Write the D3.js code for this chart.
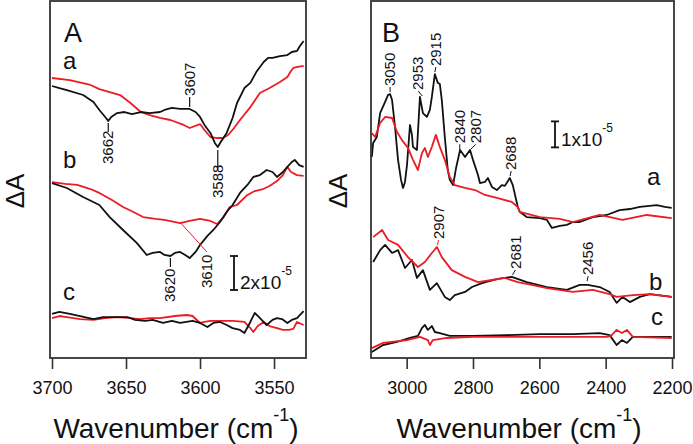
<!DOCTYPE html>
<html><head><meta charset="utf-8">
<script src="https://cdn.jsdelivr.net/npm/d3@7"></script>
<style>
body{margin:0;background:#fff}
svg{display:block}
text{font-family:"Liberation Sans",Arial,Helvetica,sans-serif;fill:#111}
</style>
</head><body>
<svg id="c" width="693" height="444"></svg>
<script>
// ---- DATA (ΔA values in units of 1e-5, traces stacked with their offsets) ----
const ticksA = [3700, 3650, 3600, 3550];
const ticksB = [3000, 2800, 2600, 2400, 2200];

// Panel A, trace a
const A_a_black = [[3700,16.0],[3695,15.88],[3690,15.76],[3679,15.47],[3672,15.06],[3668,14.59],[3663.5,14.12],[3662,13.94],[3660,14.18],[3656,14.41],[3651,14.47],[3646,14.35],[3640,14.47],[3634,14.41],[3627,14.47],[3624,14.59],[3619,14.71],[3613.5,14.65],[3607,14.65],[3603,14.47],[3600,14.18],[3597,13.71],[3593,13.24],[3590,12.65],[3588,12.41],[3586,12.71],[3582,13.24],[3578,14.12],[3575,15.0],[3570,15.88],[3566,16.18],[3562,16.82],[3557,17.41],[3554,17.65],[3551,17.65],[3546,17.76],[3541,17.82],[3538,18.0],[3534.5,18.06],[3532.5,18.35],[3530,18.65]];
const A_a_red = [[3700,16.47],[3688,16.35],[3674,16.06],[3668,15.82],[3654,15.47],[3647,15.0],[3640,14.47],[3634,14.29],[3627,14.12],[3620,14.0],[3611,13.71],[3607,13.53],[3600,13.76],[3597,13.41],[3593,13.0],[3588.5,12.94],[3584.5,12.94],[3581,13.12],[3577,13.53],[3573,14.0],[3566,14.76],[3559.5,15.59],[3553,15.88],[3546,16.24],[3541,16.53],[3539,16.82],[3537,17.06],[3534,17.12],[3530,17.18]];
// Panel A, trace b
const A_b_black = [[3700,10.29],[3690,10.0],[3679,9.47],[3668,9.0],[3661,8.29],[3652,7.53],[3642.6,6.76],[3636,6.06],[3632,6.18],[3627,6.24],[3624,6.06],[3620,6.0],[3617,6.18],[3613.5,6.24],[3610,6.06],[3607,5.88],[3603,6.24],[3600,6.65],[3595,7.18],[3591,7.53],[3586.5,8.0],[3582,8.59],[3578,9.0],[3573,9.71],[3568,10.18],[3564,10.65],[3559.5,10.76],[3555,11.06],[3551,10.94],[3548,10.65],[3544,10.94],[3541,11.24],[3538,11.53],[3536,11.65],[3533,11.35],[3530,11.24]];
const A_b_red = [[3700,10.35],[3691,10.24],[3683,10.18],[3674,9.94],[3668,9.71],[3659.5,9.29],[3652,8.88],[3645,8.59],[3638.5,8.29],[3630,8.18],[3624,8.12],[3613.5,7.94],[3607,8.06],[3600,8.18],[3593,8.06],[3588.5,7.88],[3584,8.29],[3580,8.88],[3575,9.0],[3568,9.59],[3563,9.82],[3557.4,9.94],[3553,10.12],[3548,10.41],[3544,10.76],[3541,11.24],[3538.5,10.94],[3534.5,10.76],[3530,10.71]];
// Panel A, trace c
const A_c_black = [[3700,2.59],[3695,2.71],[3688,2.59],[3681,2.47],[3672,2.29],[3665.5,2.41],[3657,2.41],[3649,2.41],[3644,2.24],[3637,2.18],[3632,2.24],[3625,2.06],[3619,2.18],[3613.5,2.06],[3605,2.18],[3600,2.06],[3595,1.82],[3591,2.06],[3586.5,2.12],[3582,1.94],[3578,1.76],[3573,1.65],[3570,1.47],[3566,2.12],[3563,2.65],[3559.5,2.35],[3555,1.94],[3551,2.24],[3548,2.35],[3544.6,2.29],[3541,2.06],[3538,2.24],[3534.5,2.35],[3530,2.76]];
const A_c_red = [[3700,2.35],[3695,2.47],[3690,2.41],[3681,2.29],[3672,2.24],[3664,2.35],[3656,2.41],[3647,2.35],[3640.5,2.29],[3634,2.35],[3627,2.35],[3617,2.47],[3609,2.53],[3605,2.47],[3600,2.06],[3597,2.12],[3593,2.18],[3586.5,2.18],[3578,2.18],[3570,2.12],[3566,1.76],[3564,1.53],[3561,1.88],[3557,2.12],[3553,1.88],[3548,1.76],[3544,1.65],[3540,1.65],[3537,1.71],[3534.5,2.12],[3530,1.94]];

// Panel B, trace a
const B_a_black = [[3105,7.73],[3101,8.27],[3090,8.5],[3080,9.42],[3065,9.85],[3056,10.12],[3050,10.15],[3044,9.92],[3035,8.88],[3026,7.62],[3017,6.85],[3011,6.54],[3005,6.77],[2999,7.42],[2990,8.96],[2984,8.58],[2981,8.12],[2969,8.0],[2960,10.04],[2951,9.42],[2939,9.27],[2930,9.54],[2924,10.04],[2915,10.92],[2906,10.58],[2900,10.54],[2894,9.92],[2885,8.5],[2876,7.23],[2870,6.85],[2860,6.65],[2851,7.31],[2839,8.0],[2824,7.73],[2809,8.0],[2800,7.62],[2785,7.04],[2779,6.73],[2764,6.77],[2755,6.92],[2743,6.58],[2728,6.46],[2713,6.65],[2704,6.62],[2689,6.92],[2680,6.65],[2665,5.81],[2659,5.62],[2638,5.42],[2598,5.38],[2577,5.31],[2562,5.0],[2538,5.08],[2517,5.12],[2499,5.23],[2478,5.23],[2439,5.42],[2397,5.5],[2358,5.69],[2327,5.73],[2297,5.81],[2246,5.88],[2222,5.81],[2201,5.77]];
const B_a_red = [[3105,8.65],[3095,8.5],[3080,9.04],[3065,9.27],[3044,9.23],[3029,8.69],[3014,8.38],[2996,8.08],[2981,7.62],[2966,7.23],[2954,7.88],[2945,8.08],[2936,7.73],[2924,8.12],[2912,8.58],[2900,8.12],[2885,7.62],[2870,6.96],[2855,6.65],[2824,6.54],[2794,6.46],[2764,6.27],[2725,6.15],[2683,6.0],[2665,5.81],[2659,5.62],[2598,5.42],[2538,5.35],[2499,5.23],[2418,5.5],[2349,5.31],[2276,5.5],[2201,5.38]];
// Panel B, trace b
const B_b_black = [[3101,3.69],[3080,4.15],[3065,4.35],[3044,4.04],[3026,4.15],[3005,3.46],[2984,3.77],[2969,3.08],[2951,3.38],[2930,2.62],[2909,2.88],[2885,2.35],[2870,2.23],[2855,2.42],[2824,2.54],[2803,2.73],[2773,2.88],[2725,3.04],[2683,3.12],[2638,2.92],[2577,2.73],[2517,2.62],[2478,2.81],[2454,2.81],[2418,2.73],[2388,2.54],[2367,2.12],[2349,2.35],[2327,2.15],[2297,2.35],[2267,2.46],[2201,2.35]];
const B_b_red = [[3101,4.65],[3074,4.92],[3056,4.54],[3026,4.35],[2996,3.88],[2966,3.5],[2945,3.69],[2924,4.04],[2909,4.27],[2894,3.88],[2864,3.38],[2824,3.12],[2785,2.92],[2743,3.0],[2704,3.08],[2665,2.92],[2623,2.81],[2577,2.69],[2499,2.54],[2439,2.62],[2388,2.46],[2367,2.35],[2318,2.42],[2267,2.46],[2201,2.35]];
// Panel B, trace c
const B_c_black = [[3105,0.23],[3071,0.5],[3029,0.62],[2990,0.77],[2966,0.85],[2954,1.15],[2945,1.27],[2936,1.08],[2924,1.23],[2915,1.0],[2900,0.96],[2870,0.85],[2800,0.85],[2698,0.88],[2598,0.92],[2499,0.92],[2418,0.96],[2388,0.88],[2367,0.5],[2351,0.69],[2336,0.58],[2318,0.81],[2276,0.81],[2201,0.81]];
const B_c_red = [[3105,0.38],[3071,0.58],[2999,0.69],[2960,0.81],[2936,0.69],[2930,0.5],[2921,0.69],[2879,0.77],[2800,0.81],[2598,0.81],[2397,0.81],[2384,0.85],[2367,1.08],[2351,0.96],[2336,1.08],[2318,0.81],[2201,0.77]];

// Peak labels
const peaksA = ["3662","3607","3588","3620","3610"];
const peaksB = ["3050","2953","2915","2840","2807","2688","2907","2681","2456"];
const traceLabels = ["a","b","c"];

// ---- DRAWING ----
const BLACK = "#111", RED = "#ec1c24";
const svg = d3.select("#c");

const xA = d3.scaleLinear().domain([3701.35, 3528.4]).range([50, 306]);
const yA = d3.scaleLinear().domain([0, 21]).range([358, 1]);
const xB = d3.scaleLinear().domain([3107.5, 2194]).range([371, 674]);
const yB = d3.scaleLinear().domain([0, 13.73]).range([358, 1]);

const defs = svg.append("defs");
defs.append("clipPath").attr("id","clipA").append("rect").attr("x",50).attr("y",1).attr("width",256).attr("height",357);
defs.append("clipPath").attr("id","clipB").append("rect").attr("x",371).attr("y",1).attr("width",303).attr("height",357);

function drawSeries(g, data, x, y, color) {
  const line = d3.line().x(d => x(d[0])).y(d => y(d[1]));
  g.append("path").datum(data).attr("d", line)
    .attr("fill","none").attr("stroke",color).attr("stroke-width",1.8)
    .attr("stroke-linejoin","round");
}

const gA = svg.append("g").attr("clip-path","url(#clipA)");
[[A_a_red,RED],[A_a_black,BLACK],[A_b_red,RED],[A_b_black,BLACK],[A_c_red,RED],[A_c_black,BLACK]]
  .forEach(([d,c]) => drawSeries(gA, d, xA, yA, c));
const gB = svg.append("g").attr("clip-path","url(#clipB)");
[[B_a_black,BLACK],[B_a_red,RED],[B_b_black,BLACK],[B_b_red,RED],[B_c_black,BLACK],[B_c_red,RED]]
  .forEach(([d,c]) => drawSeries(gB, d, xB, yB, c));

// axes
function axis(x, ticks) {
  return d3.axisBottom(x).tickValues(ticks).tickSize(11).tickPadding(12).tickFormat(d3.format("d"));
}
[[xA,ticksA],[xB,ticksB]].forEach(([x,t]) => {
  const g = svg.append("g").attr("transform","translate(0,358)").call(axis(x,t));
  g.select(".domain").remove();
  g.selectAll(".tick line").attr("stroke","#333").attr("stroke-width",1.6);
  g.selectAll(".tick text").attr("font-size",18).attr("fill","#222")
    .attr("font-family","'Liberation Sans',Arial,sans-serif");
});

// frames
svg.append("rect").attr("x",50).attr("y",1).attr("width",256).attr("height",357)
  .attr("fill","none").attr("stroke","#333").attr("stroke-width",1.8);
svg.append("rect").attr("x",371).attr("y",1).attr("width",303).attr("height",357)
  .attr("fill","none").attr("stroke","#333").attr("stroke-width",1.8);

// axis titles
function xTitle(cx) {
  const t = svg.append("text").attr("x",cx).attr("y",438).attr("text-anchor","middle").attr("font-size",28);
  t.append("tspan").text("Wavenumber (cm");
  t.append("tspan").attr("font-size",18).attr("dy",-17).text("-1");
  t.append("tspan").attr("dy",17).text(")");
}
xTitle(176); xTitle(519);
function yTitle(x) {
  svg.append("text").attr("transform",`translate(${x},191) rotate(-90)`)
    .attr("text-anchor","middle").attr("font-size",26).text("ΔA");
}
yTitle(24); yTitle(347);

// panel letters and trace letters
function txt(x, y, s, size, color, anchor) {
  return svg.append("text").attr("x",x).attr("y",y).attr("font-size",size)
    .attr("fill",color||"#111").attr("text-anchor",anchor||"start").text(s);
}
txt(64,42,"A",27); txt(382,42,"B",27);
txt(63,69,traceLabels[0],24); txt(63,168,traceLabels[1],24); txt(63,300,traceLabels[2],24);
txt(647,185,traceLabels[0],24); txt(649,290,traceLabels[1],24); txt(651,325,traceLabels[2],24);

// scale bars
function scaleBar(x, y1, y2, label) {
  const c = "#111";
  svg.append("line").attr("x1",x).attr("x2",x).attr("y1",y1).attr("y2",y2).attr("stroke",c).attr("stroke-width",1.8);
  svg.append("line").attr("x1",x-4).attr("x2",x+4).attr("y1",y1).attr("y2",y1).attr("stroke",c).attr("stroke-width",1.8);
  svg.append("line").attr("x1",x-4).attr("x2",x+4).attr("y1",y2).attr("y2",y2).attr("stroke",c).attr("stroke-width",1.8);
  const t = svg.append("text").attr("x",x+6).attr("y",y2-1).attr("font-size",19);
  t.append("tspan").text(label);
  t.append("tspan").attr("font-size",12).attr("dy",-14).text("-5");
}
scaleBar(234, yA(6.0), yA(4.0), "2x10");
scaleBar(555, yB(9.1), yB(8.1), "1x10");

// rotated peak labels
function rot(x, yStart, s, color) {
  svg.append("text").attr("transform",`translate(${x},${yStart}) rotate(-90)`)
    .attr("dy","0.35em").attr("font-size",15).attr("fill",color).text(s);
}
function seg(x1,y1,x2,y2,color,w) {
  svg.append("line").attr("x1",x1).attr("y1",y1).attr("x2",x2).attr("y2",y2)
    .attr("stroke",color).attr("stroke-width",w||1.2);
}
// Panel A
{
  let px = xA(3662), py = yA(13.94);
  seg(px, py+2, px, py+11, BLACK); rot(px, py+43, peaksA[0], BLACK);
  px = xA(3607); py = yA(14.65);
  seg(px, py-2, px, py-12, BLACK); rot(px, py-13, peaksA[1], BLACK);
  px = xA(3588); py = yA(12.41);
  seg(px, py+3, px, py+23, BLACK); rot(px, py+51, peaksA[2], BLACK);
  px = xA(3620); py = yA(6.0);
  seg(px, py+2, px, py+11, BLACK); rot(px-1, py+46, peaksA[3], BLACK);
  px = xA(3613); py = yA(7.94);
  seg(px, py, 207, 252, RED, 1); rot(207, 288, peaksA[4], RED);
}
// Panel B
{
  const pk = [
    [3050,10.15,0,peaksB[0],BLACK],
    [2953,10.0,-4,peaksB[1],BLACK],
    [2915,10.92,1,peaksB[2],BLACK],
    [2840,7.95,0,peaksB[3],BLACK],
    [2807,7.95,5,peaksB[4],BLACK],
    [2688,6.92,1,peaksB[5],BLACK],
    [2907,4.27,1,peaksB[6],RED],
    [2681,3.12,3,peaksB[7],BLACK],
    [2456,2.88,1,peaksB[8],BLACK]
  ];
  pk.forEach(([w,v,dx,s,c]) => {
    const px = xB(w), py = yB(v);
    seg(px, py-2, px+dx, py-7, c, 1);
    rot(px+dx, py-8, s, c);
  });
}
</script>
</body></html>
